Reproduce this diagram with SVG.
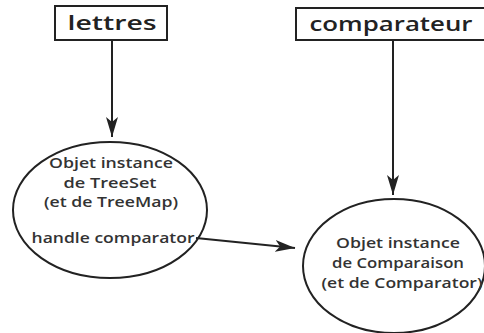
<svg xmlns="http://www.w3.org/2000/svg" width="484" height="333" viewBox="0 0 484 333">
<style>
.box{fill:#fff;stroke:#222;stroke-width:2}
.ell{fill:#fff;stroke:#222;stroke-width:2}
.lbl{font-family:"Open Sans","DejaVu Sans",sans-serif;font-size:19px;font-weight:600;fill:#222;text-anchor:middle}
.t{font-family:"Open Sans","DejaVu Sans",sans-serif;font-size:15px;font-weight:600;fill:#333;text-anchor:middle}
.c{stroke:#222;stroke-width:2;fill:none}
</style>
<defs>
<marker id="ah" viewBox="0 0 20 12" refX="20" refY="6" markerWidth="20" markerHeight="12" markerUnits="userSpaceOnUse" orient="auto">
<path d="M0,0 L20,6 L0,12 L5,6 Z" fill="#222"/>
</marker>
</defs>
<g id="lettres">
<rect class="box" x="55" y="6" width="112" height="34"/>
<text class="lbl" x="112" y="30" textLength="89" lengthAdjust="spacingAndGlyphs">lettres</text>
</g>
<g id="comparateur">
<rect class="box" x="296" y="8" width="192" height="32"/>
<text class="lbl" x="391" y="31" textLength="163" lengthAdjust="spacingAndGlyphs">comparateur</text>
</g>
<g id="treeset">
<ellipse class="ell" cx="110" cy="210" rx="97" ry="68"/>
<text class="t" x="111" y="168" textLength="124" lengthAdjust="spacingAndGlyphs">Objet instance</text>
<text class="t" x="110" y="188" textLength="93" lengthAdjust="spacingAndGlyphs">de TreeSet</text>
<text class="t" x="111" y="207" textLength="134" lengthAdjust="spacingAndGlyphs">(et de TreeMap)</text>
<text class="t" x="113" y="243" textLength="163" lengthAdjust="spacingAndGlyphs">handle comparator</text>
</g>
<g id="comparaison">
<ellipse class="ell" cx="394" cy="266" rx="91" ry="67"/>
<text class="t" x="398" y="248" textLength="124" lengthAdjust="spacingAndGlyphs">Objet instance</text>
<text class="t" x="398" y="268" textLength="132" lengthAdjust="spacingAndGlyphs">de Comparaison</text>
<text class="t" x="402" y="288" textLength="161" lengthAdjust="spacingAndGlyphs">(et de Comparator)</text>
</g>
<g id="connectors">
<line class="c" x1="112" y1="40" x2="112" y2="137" marker-end="url(#ah)"/>
<line class="c" x1="393" y1="40" x2="393" y2="195" marker-end="url(#ah)"/>
<path class="c" d="M196,238 L295,248" marker-end="url(#ah)"/>
</g>
</svg>
